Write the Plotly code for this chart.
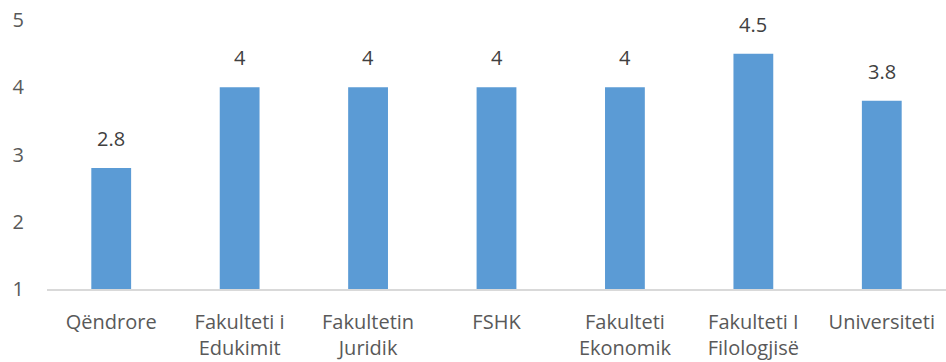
import plotly.graph_objects as go

categories = ["Qëndrore", "Fakulteti i<br>Edukimit", "Fakultetin<br>Juridik", "FSHK",
              "Fakulteti<br>Ekonomik", "Fakulteti I<br>Filologjisë", "Universiteti"]
values = [2.8, 4, 4, 4, 4, 4.5, 3.8]
value_labels = ["2.8", "4", "4", "4", "4", "4.5", "3.8"]
y_ticks = [1, 2, 3, 4, 5]

FONT = "'Open Sans', sans-serif"

fig = go.Figure()
fig.add_trace(go.Bar(
    x=categories, y=[v - 1 for v in values], base=1,
    marker=dict(color="#5B9BD5", line=dict(width=0)),
    width=0.31, hoverinfo="skip",
))
for c, v, t in zip(categories, values, value_labels):
    fig.add_annotation(x=c, y=v, text=t, showarrow=False, yanchor="bottom",
                       yshift=14, font=dict(family=FONT, size=20, color="#404040"))

fig.update_layout(
    width=946, height=362,
    margin=dict(l=47, r=0, t=20, b=73, autoexpand=False),
    paper_bgcolor="white", plot_bgcolor="white",
    showlegend=False,
    font=dict(family=FONT, size=20, color="#595959"),
)
fig.update_xaxes(showline=True, linecolor="#D9D9D9", linewidth=1.5, ticks="",
                 showgrid=False, ticklabelstandoff=14, automargin=False,
                 ticklabeloverflow="allow",
                 tickfont=dict(size=20, color="#595959"))
fig.update_yaxes(range=[1, 5], tickvals=y_ticks, showgrid=False, zeroline=False,
                 showline=False, ticks="", ticklabelstandoff=22, automargin=False,
                 ticklabeloverflow="allow",
                 tickfont=dict(size=20, color="#595959"))

fig.write_html("out.html", config={"displayModeBar": False},
               post_script="document.body.style.margin='0';")
